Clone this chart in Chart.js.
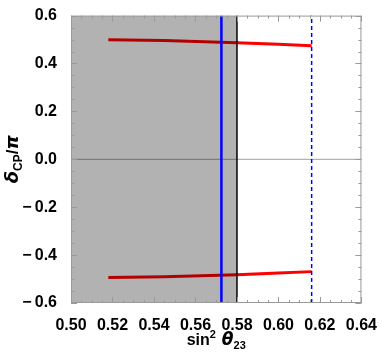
<!DOCTYPE html>
<html>
<head>
<meta charset="utf-8">
<script src="https://cdn.jsdelivr.net/npm/chart.js@4.4.1/dist/chart.umd.min.js"></script>
<style>
  html, body { margin: 0; padding: 0; background: #fff; }
  #wrap { width: 382px; height: 359px; }
</style>
</head>
<body>
<div id="wrap"><canvas id="plot" width="382" height="359"></canvas></div>
<script>
// values
var upperBranch = [[0.518, 0.499], [0.545, 0.496], [0.58, 0.487], [0.60, 0.480], [0.616, 0.474]];
var lowerBranch = [[0.518, -0.494], [0.545, -0.490], [0.58, -0.482], [0.60, -0.475], [0.616, -0.469]];
var shadedRange = [0.50, 0.58];
var bestFit = 0.5725;
var edgeLine = 0.58;
var dashedLine = 0.616;

var xTickValues = [0.50, 0.52, 0.54, 0.56, 0.58, 0.60, 0.62, 0.64];
var xTickLabels = ["0.50", "0.52", "0.54", "0.56", "0.58", "0.60", "0.62", "0.64"];
var yTickValues = [-0.6, -0.4, -0.2, 0.0, 0.2, 0.4, 0.6];
var yTickLabels = ["\u2212\u20090.6", "\u2212\u20090.4", "\u2212\u20090.2", "0.0", "0.2", "0.4", "0.6"];

var SANS = "'Liberation Sans', Arial, sans-serif";
Chart.defaults.font.family = SANS;
Chart.defaults.font.size = 16;
Chart.defaults.font.weight = "bold";
Chart.defaults.color = "#000";

function pts(arr) { return arr.map(function (p) { return { x: p[0], y: p[1] }; }); }
function vline(x) { return [{ x: x, y: -0.6 }, { x: x, y: 0.6 }]; }

// frame with inward ticks, Mathematica style
var frameTicks = {
  id: "frameTicks",
  afterDatasetsDraw: function (chart) {
    var ctx = chart.ctx, a = chart.chartArea;
    var xs = chart.scales.x, ys = chart.scales.y;
    ctx.save();
    ctx.strokeStyle = "#999";
    ctx.lineWidth = 1;
    ctx.strokeRect(a.left + 0.5, a.top + 0.5, a.right - a.left - 1, a.bottom - a.top - 1);
    ctx.beginPath();
    for (var i = 0; i <= 28; i++) {
      var v = 0.50 + i * 0.005;
      var px = Math.round(xs.getPixelForValue(v)) + 0.5;
      var len = (i % 4 === 0) ? 6 : 3;
      ctx.moveTo(px, a.bottom); ctx.lineTo(px, a.bottom - len);
      ctx.moveTo(px, a.top); ctx.lineTo(px, a.top + len);
    }
    for (var j = 0; j <= 24; j++) {
      var w = -0.6 + j * 0.05;
      var py = Math.round(ys.getPixelForValue(w)) + 0.5;
      var l2 = (j % 4 === 0) ? 6 : 3;
      ctx.moveTo(a.left, py); ctx.lineTo(a.left + l2, py);
      ctx.moveTo(a.right, py); ctx.lineTo(a.right - l2, py);
    }
    ctx.stroke();
    ctx.restore();
  },
  afterDraw: function (chart) {
    var ctx = chart.ctx, a = chart.chartArea;
    ctx.save();
    ctx.fillStyle = "#000";
    ctx.textBaseline = "alphabetic";
    // x title: sin^2 theta_23
    var parts = [
      { t: "sin", f: "bold 16px " + SANS, dy: 0 },
      { t: "2", f: "bold 11px " + SANS, dy: -7 },
      { t: " \u03B8", f: "italic bold 17px 'DejaVu Sans', sans-serif", dy: 0 },
      { t: "23", f: "bold 11px " + SANS, dy: 4 }
    ];
    var total = 0;
    parts.forEach(function (p) { ctx.font = p.f; p.w = ctx.measureText(p.t).width; total += p.w; });
    var x = (a.left + a.right) / 2 - total / 2;
    parts.forEach(function (p) { ctx.font = p.f; ctx.fillText(p.t, x, 345 + p.dy); x += p.w; });
    // y title: delta_CP / pi
    ctx.translate(18, (a.top + a.bottom) / 2);
    ctx.rotate(-Math.PI / 2);
    var yparts = [
      { t: "\u03B4", f: "italic bold 18px 'DejaVu Sans', sans-serif", dy: 0 },
      { t: "CP", f: "bold 12px " + SANS, dy: 4 },
      { t: "/", f: "bold 17px " + SANS, dy: 0 },
      { t: "\u03C0", f: "italic bold 18px 'DejaVu Sans', sans-serif", dy: 0 }
    ];
    total = 0;
    yparts.forEach(function (p) { ctx.font = p.f; p.w = ctx.measureText(p.t).width; total += p.w; });
    x = -total / 2;
    yparts.forEach(function (p) { ctx.font = p.f; ctx.fillText(p.t, x, p.dy); x += p.w; });
    ctx.restore();
  }
};

var ctx = document.getElementById("plot");
var chart = new Chart(ctx, {
  type: "scatter",
  data: {
    datasets: [
      { data: vline(bestFit), showLine: true, borderColor: "#0000ff", borderWidth: 2.5, pointRadius: 0, order: 0 },
      { data: vline(edgeLine), showLine: true, borderColor: "#000", borderWidth: 1.5, pointRadius: 0, order: 0 },
      { data: vline(dashedLine), showLine: true, borderColor: "#0000ff", borderWidth: 1.5, borderDash: [4, 3], pointRadius: 0, order: 0 },
      { data: [{ x: shadedRange[0], y: 0.6 }, { x: shadedRange[1], y: 0.6 }], showLine: true, borderWidth: 0,
        backgroundColor: "rgba(0,0,0,0.3)", fill: "start", pointRadius: 0, order: 1 },
      { data: pts(upperBranch), showLine: true, borderColor: "#ff0000", borderWidth: 3, pointRadius: 0, order: 2 },
      { data: pts(lowerBranch), showLine: true, borderColor: "#ff0000", borderWidth: 3, pointRadius: 0, order: 2 },
      { data: [{ x: 0.50, y: 0 }, { x: 0.64, y: 0 }], showLine: true, borderColor: "#a0a0a0", borderWidth: 1, pointRadius: 0, order: 3 }
    ]
  },
  options: {
    responsive: false,
    animation: false,
    layout: { padding: { top: 11, right: 19, left: 0, bottom: 0 } },
    plugins: { legend: { display: false }, tooltip: { enabled: false } },
    scales: {
      x: {
        type: "linear", min: 0.50, max: 0.64,
        grid: { display: false }, border: { display: false },
        afterBuildTicks: function (s) { s.ticks = xTickValues.map(function (v) { return { value: v }; }); },
        afterFit: function (s) { s.height = 56; },
        ticks: {
          padding: 5, color: "#000", maxRotation: 0, autoSkip: false,
          font: { family: SANS, size: 16, weight: "bold" },
          callback: function (v, i) { return xTickLabels[i]; }
        }
      },
      y: {
        type: "linear", min: -0.6, max: 0.6,
        grid: { display: false }, border: { display: false },
        afterBuildTicks: function (s) { s.ticks = yTickValues.map(function (v) { return { value: v }; }); },
        afterFit: function (s) { s.width = 71; },
        ticks: {
          padding: 6, color: "#000", autoSkip: false,
          font: { family: SANS, size: 16, weight: "bold" },
          callback: function (v, i) { return yTickLabels[i]; }
        }
      }
    }
  },
  plugins: [frameTicks]
});
</script>
</body>
</html>
